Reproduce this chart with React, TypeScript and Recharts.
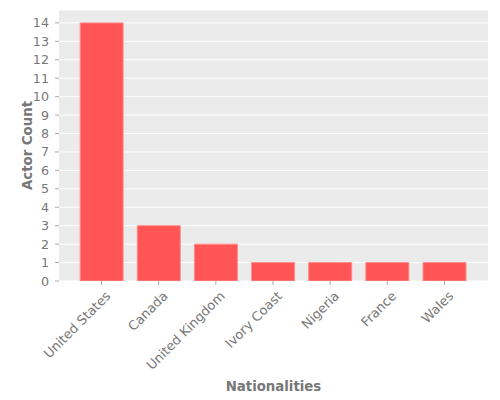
import React from 'react';
import { BarChart, Bar, XAxis, YAxis, CartesianGrid } from 'recharts';

const categories = ['United States', 'Canada', 'United Kingdom', 'Ivory Coast', 'Nigeria', 'France', 'Wales'];
const actorCounts = [14, 3, 2, 1, 1, 1, 1];
const yTicks = [0, 1, 2, 3, 4, 5, 6, 7, 8, 9, 10, 11, 12, 13, 14];

const data = categories.map((c, i) => ({ name: c, count: actorCounts[i] }));

const FONT = 'DejaVu Sans, sans-serif';
const TEXT = '#777777';

const XTick = (props: any) => {
  const { x, y, payload } = props;
  return (
    <g transform={`translate(${x + 7},${y + 7})`}>
      <text
        x={0}
        y={0}
        dy={4}
        textAnchor="end"
        transform="rotate(-45)"
        fill={TEXT}
        fontSize={13}
        fontFamily={FONT}
      >
        {payload.value}
      </text>
    </g>
  );
};

const YTick = (props: any) => {
  const { x, y, payload } = props;
  return (
    <text x={x - 4} y={y} dy={4.5} textAnchor="end" fill={TEXT} fontSize={12.7} fontFamily={FONT}>
      {payload.value}
    </text>
  );
};

export default function App() {
  return (
    <div style={{ position: 'absolute', left: 0, top: 0, width: 500, height: 400, background: '#fff' }}>
      <BarChart
        width={500}
        height={400}
        data={data}
        margin={{ top: 10, right: 12, left: 0, bottom: 0 }}
        barCategoryGap="12.5%"
      >
        <CartesianGrid stroke="#ffffff" strokeWidth={1} vertical={false} fill="#EBEBEB" />
        <XAxis
          dataKey="name"
          height={119}
          padding={{ left: 14, right: 15 }}
          tick={<XTick />}
          tickLine={{ stroke: '#aaaaaa' }}
          tickSize={4}
          axisLine={false}
          interval={0}
          label={{
            value: 'Nationalities',
            position: 'insideBottom',
            offset: 9,
            fill: TEXT,
            fontSize: 13.3,
            fontWeight: 'bold',
            fontFamily: FONT,
          }}
        />
        <YAxis
          width={59}
          domain={[0, 14.7]}
          ticks={yTicks}
          interval={0}
          allowDataOverflow
          tick={<YTick />}
          tickLine={{ stroke: '#aaaaaa' }}
          tickSize={4}
          axisLine={false}
          label={{
            value: 'Actor Count',
            angle: -90,
            position: 'insideLeft',
            offset: 27,
            style: { textAnchor: 'middle' },
            fill: TEXT,
            fontSize: 13.3,
            fontWeight: 'bold',
            fontFamily: FONT,
          }}
        />
        <Bar dataKey="count" fill="#FF5555" stroke="#FF8C8C" strokeWidth={1} isAnimationActive={false} />
      </BarChart>
    </div>
  );
}
